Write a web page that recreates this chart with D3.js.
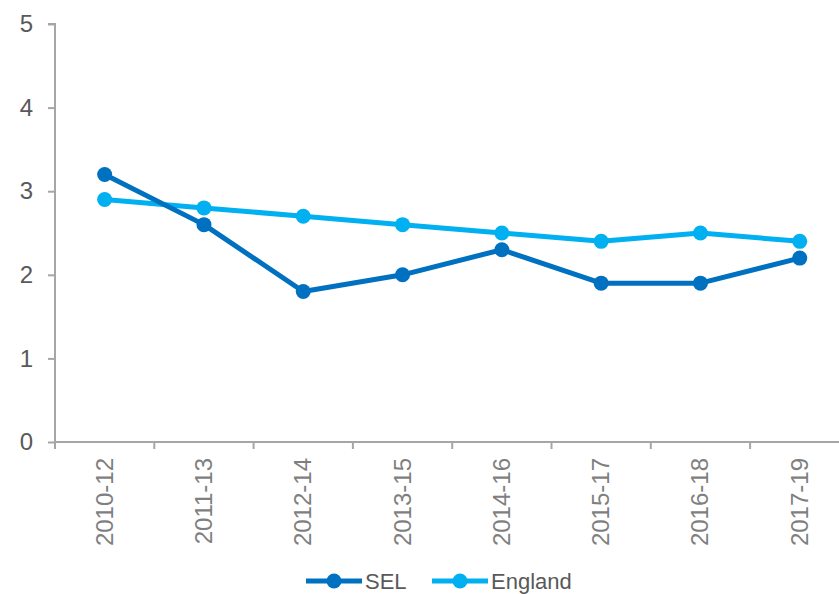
<!DOCTYPE html>
<html>
<head>
<meta charset="utf-8">
<script src="https://cdn.jsdelivr.net/npm/d3@7"></script>
<style>
  html, body { margin: 0; padding: 0; background: #fff; }
  svg { display: block; }
</style>
</head>
<body>
<div id="chart"></div>
<script>
// chart data
const periods = ["2010-12", "2011-13", "2012-14", "2013-15", "2014-16", "2015-17", "2016-18", "2017-19"];
const sel = [3.2, 2.6, 1.8, 2.0, 2.3, 1.9, 1.9, 2.2];
const england = [2.9, 2.8, 2.7, 2.6, 2.5, 2.4, 2.5, 2.4];
const yTicks = [0, 1, 2, 3, 4, 5];

const width = 839, height = 594;
const plotLeft = 55, plotTop = 24, plotBottom = 442;
const bandW = 99.3;

const svg = d3.select("#chart").append("svg")
    .attr("width", width)
    .attr("height", height);

const x = d3.scaleBand()
    .domain(periods)
    .range([plotLeft, plotLeft + bandW * periods.length]);

const y = d3.scaleLinear()
    .domain([0, 5])
    .range([plotBottom, plotTop]);

const axisColor = "#A6A6A6";
const textColor = "#595959";
const font = "Arial, 'Liberation Sans', sans-serif";

// y axis
const yAxis = svg.append("g")
    .attr("transform", `translate(${plotLeft},0)`)
    .call(d3.axisLeft(y).tickValues(yTicks).tickSize(7).tickPadding(15).tickFormat(d3.format("d")));
yAxis.select(".domain").attr("stroke", axisColor).attr("stroke-width", 2).attr("d", `M-7,${plotTop}H0V${plotBottom}`);
yAxis.selectAll(".tick line").attr("stroke", axisColor).attr("stroke-width", 2);
yAxis.selectAll(".tick text")
    .attr("fill", textColor)
    .style("font-family", font)
    .style("font-size", "24px");

// x axis (ticks at band boundaries)
const xg = svg.append("g").attr("transform", `translate(0,${plotBottom})`);
xg.append("line")
    .attr("x1", plotLeft).attr("x2", width)
    .attr("stroke", axisColor).attr("stroke-width", 2);
xg.selectAll(".xtick")
    .data(periods)
    .enter().append("line")
    .attr("x1", d => x(d)).attr("x2", d => x(d))
    .attr("y1", 0).attr("y2", 7)
    .attr("stroke", axisColor).attr("stroke-width", 2);
xg.selectAll(".xlabel")
    .data(periods)
    .enter().append("text")
    .attr("transform", d => `translate(${x(d) + x.bandwidth() / 2 + 8},16) rotate(-90)`)
    .attr("text-anchor", "end")
    .attr("fill", "#7F7F7F")
    .style("font-family", font)
    .style("font-size", "24px")
    .text(d => d);

// lines
const series = [
    { name: "SEL", values: sel, color: "#0070C0" },
    { name: "England", values: england, color: "#00B0F0" }
];

const line = d3.line()
    .x((d, i) => x(periods[i]) + x.bandwidth() / 2)
    .y(d => y(d));

series.slice().reverse().forEach(s => {
    const g = svg.append("g");
    g.append("path")
        .attr("d", line(s.values))
        .attr("fill", "none")
        .attr("stroke", s.color)
        .attr("stroke-width", 5)
        .attr("stroke-linejoin", "round");
    g.selectAll("circle")
        .data(s.values)
        .enter().append("circle")
        .attr("cx", (d, i) => x(periods[i]) + x.bandwidth() / 2)
        .attr("cy", d => y(d))
        .attr("r", 7.5)
        .attr("fill", s.color);
});

// legend
const legendPos = [306, 432];
series.forEach((s, i) => {
    const g = svg.append("g").attr("transform", `translate(${legendPos[i]},581)`);
    g.append("line")
        .attr("x1", 0).attr("x2", 56)
        .attr("stroke", s.color).attr("stroke-width", 5);
    g.append("circle")
        .attr("cx", 28).attr("r", 7.5)
        .attr("fill", s.color);
    g.append("text")
        .attr("x", 59).attr("y", 8)
        .attr("fill", textColor)
        .style("font-family", font)
        .style("font-size", "22px")
        .text(s.name);
});
</script>
</body>
</html>
